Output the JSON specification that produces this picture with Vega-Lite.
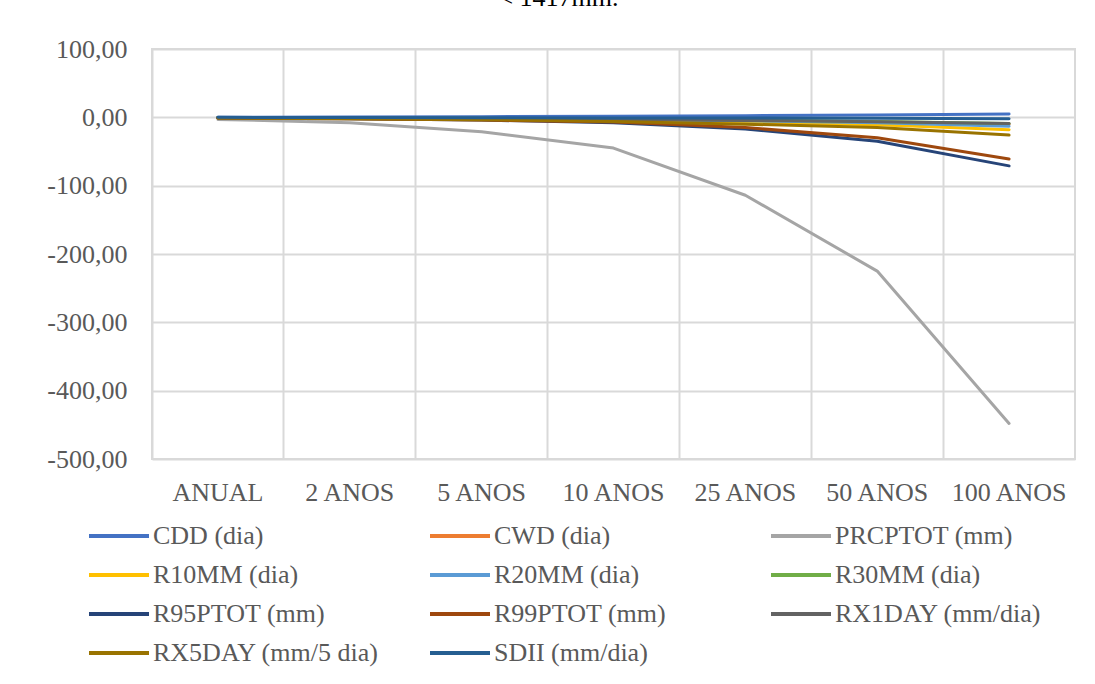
{
  "$schema": "https://vega.github.io/schema/vega-lite/v6.json",
  "width": 923,
  "height": 410,
  "autosize": {"type": "none"},
  "padding": {"left": 152, "top": 49, "right": 20, "bottom": 225},
  "background": "white",
  "title": {"text": "< 1417mm.", "font": "Liberation Serif", "fontSize": 26, "fontWeight": "normal", "color": "#000000", "anchor": "middle", "dx": -55, "offset": 25},
  "data": {"values": [
    {"serie": "CDD (dia)", "periodo": "ANUAL", "valor": 0},
    {"serie": "CDD (dia)", "periodo": "2 ANOS", "valor": 0.5},
    {"serie": "CDD (dia)", "periodo": "5 ANOS", "valor": 1},
    {"serie": "CDD (dia)", "periodo": "10 ANOS", "valor": 1.5},
    {"serie": "CDD (dia)", "periodo": "25 ANOS", "valor": 2.5},
    {"serie": "CDD (dia)", "periodo": "50 ANOS", "valor": 3.5},
    {"serie": "CDD (dia)", "periodo": "100 ANOS", "valor": 5},
    {"serie": "CWD (dia)", "periodo": "ANUAL", "valor": -1},
    {"serie": "CWD (dia)", "periodo": "2 ANOS", "valor": -1.5},
    {"serie": "CWD (dia)", "periodo": "5 ANOS", "valor": -2},
    {"serie": "CWD (dia)", "periodo": "10 ANOS", "valor": -3},
    {"serie": "CWD (dia)", "periodo": "25 ANOS", "valor": -5},
    {"serie": "CWD (dia)", "periodo": "50 ANOS", "valor": -7},
    {"serie": "CWD (dia)", "periodo": "100 ANOS", "valor": -10},
    {"serie": "PRCPTOT (mm)", "periodo": "ANUAL", "valor": -3},
    {"serie": "PRCPTOT (mm)", "periodo": "2 ANOS", "valor": -8},
    {"serie": "PRCPTOT (mm)", "periodo": "5 ANOS", "valor": -21},
    {"serie": "PRCPTOT (mm)", "periodo": "10 ANOS", "valor": -45},
    {"serie": "PRCPTOT (mm)", "periodo": "25 ANOS", "valor": -114},
    {"serie": "PRCPTOT (mm)", "periodo": "50 ANOS", "valor": -225},
    {"serie": "PRCPTOT (mm)", "periodo": "100 ANOS", "valor": -448},
    {"serie": "R10MM (dia)", "periodo": "ANUAL", "valor": -1},
    {"serie": "R10MM (dia)", "periodo": "2 ANOS", "valor": -1.5},
    {"serie": "R10MM (dia)", "periodo": "5 ANOS", "valor": -3},
    {"serie": "R10MM (dia)", "periodo": "10 ANOS", "valor": -4},
    {"serie": "R10MM (dia)", "periodo": "25 ANOS", "valor": -7},
    {"serie": "R10MM (dia)", "periodo": "50 ANOS", "valor": -11},
    {"serie": "R10MM (dia)", "periodo": "100 ANOS", "valor": -18},
    {"serie": "R20MM (dia)", "periodo": "ANUAL", "valor": -0.5},
    {"serie": "R20MM (dia)", "periodo": "2 ANOS", "valor": -1},
    {"serie": "R20MM (dia)", "periodo": "5 ANOS", "valor": -2},
    {"serie": "R20MM (dia)", "periodo": "10 ANOS", "valor": -3},
    {"serie": "R20MM (dia)", "periodo": "25 ANOS", "valor": -5},
    {"serie": "R20MM (dia)", "periodo": "50 ANOS", "valor": -8},
    {"serie": "R20MM (dia)", "periodo": "100 ANOS", "valor": -13},
    {"serie": "R30MM (dia)", "periodo": "ANUAL", "valor": -0.5},
    {"serie": "R30MM (dia)", "periodo": "2 ANOS", "valor": -1},
    {"serie": "R30MM (dia)", "periodo": "5 ANOS", "valor": -1.5},
    {"serie": "R30MM (dia)", "periodo": "10 ANOS", "valor": -2.5},
    {"serie": "R30MM (dia)", "periodo": "25 ANOS", "valor": -4},
    {"serie": "R30MM (dia)", "periodo": "50 ANOS", "valor": -6},
    {"serie": "R30MM (dia)", "periodo": "100 ANOS", "valor": -9},
    {"serie": "R95PTOT (mm)", "periodo": "ANUAL", "valor": -1},
    {"serie": "R95PTOT (mm)", "periodo": "2 ANOS", "valor": -2},
    {"serie": "R95PTOT (mm)", "periodo": "5 ANOS", "valor": -4},
    {"serie": "R95PTOT (mm)", "periodo": "10 ANOS", "valor": -8},
    {"serie": "R95PTOT (mm)", "periodo": "25 ANOS", "valor": -17},
    {"serie": "R95PTOT (mm)", "periodo": "50 ANOS", "valor": -35},
    {"serie": "R95PTOT (mm)", "periodo": "100 ANOS", "valor": -71},
    {"serie": "R99PTOT (mm)", "periodo": "ANUAL", "valor": -1},
    {"serie": "R99PTOT (mm)", "periodo": "2 ANOS", "valor": -2},
    {"serie": "R99PTOT (mm)", "periodo": "5 ANOS", "valor": -4},
    {"serie": "R99PTOT (mm)", "periodo": "10 ANOS", "valor": -7},
    {"serie": "R99PTOT (mm)", "periodo": "25 ANOS", "valor": -15},
    {"serie": "R99PTOT (mm)", "periodo": "50 ANOS", "valor": -30},
    {"serie": "R99PTOT (mm)", "periodo": "100 ANOS", "valor": -61},
    {"serie": "RX1DAY (mm/dia)", "periodo": "ANUAL", "valor": -0.5},
    {"serie": "RX1DAY (mm/dia)", "periodo": "2 ANOS", "valor": -1},
    {"serie": "RX1DAY (mm/dia)", "periodo": "5 ANOS", "valor": -2},
    {"serie": "RX1DAY (mm/dia)", "periodo": "10 ANOS", "valor": -3},
    {"serie": "RX1DAY (mm/dia)", "periodo": "25 ANOS", "valor": -4.5},
    {"serie": "RX1DAY (mm/dia)", "periodo": "50 ANOS", "valor": -6.5},
    {"serie": "RX1DAY (mm/dia)", "periodo": "100 ANOS", "valor": -9},
    {"serie": "RX5DAY (mm/5 dia)", "periodo": "ANUAL", "valor": -1},
    {"serie": "RX5DAY (mm/5 dia)", "periodo": "2 ANOS", "valor": -2},
    {"serie": "RX5DAY (mm/5 dia)", "periodo": "5 ANOS", "valor": -3.5},
    {"serie": "RX5DAY (mm/5 dia)", "periodo": "10 ANOS", "valor": -6},
    {"serie": "RX5DAY (mm/5 dia)", "periodo": "25 ANOS", "valor": -10},
    {"serie": "RX5DAY (mm/5 dia)", "periodo": "50 ANOS", "valor": -15},
    {"serie": "RX5DAY (mm/5 dia)", "periodo": "100 ANOS", "valor": -26},
    {"serie": "SDII (mm/dia)", "periodo": "ANUAL", "valor": 0},
    {"serie": "SDII (mm/dia)", "periodo": "2 ANOS", "valor": -0.3},
    {"serie": "SDII (mm/dia)", "periodo": "5 ANOS", "valor": -0.5},
    {"serie": "SDII (mm/dia)", "periodo": "10 ANOS", "valor": -0.8},
    {"serie": "SDII (mm/dia)", "periodo": "25 ANOS", "valor": -1},
    {"serie": "SDII (mm/dia)", "periodo": "50 ANOS", "valor": -1.5},
    {"serie": "SDII (mm/dia)", "periodo": "100 ANOS", "valor": -2}
  ]},
  "mark": {"type": "line", "strokeWidth": 3, "strokeCap": "round", "strokeJoin": "round"},
  "encoding": {
    "x": {
      "field": "periodo", "type": "nominal", "sort": null,
      "scale": {"type": "band", "paddingInner": 0, "paddingOuter": 0, "domain": ["ANUAL", "2 ANOS", "5 ANOS", "10 ANOS", "25 ANOS", "50 ANOS", "100 ANOS"]},
      "axis": {"title": null, "labelFont": "Liberation Serif", "labelFontSize": 26, "labelColor": "#595959", "labelAngle": 0, "ticks": false, "domain": false, "grid": true, "gridColor": "#d9d9d9", "gridWidth": 2, "bandPosition": 0, "labelPadding": 20}
    },
    "y": {
      "field": "valor", "type": "quantitative",
      "scale": {"domain": [-500, 100], "nice": false, "zero": false},
      "axis": {"title": null, "values": [-500, -400, -300, -200, -100, 0, 100], "labelExpr": "replace(replace(format(datum.value, '.2f'), '.', ','), '\u2212', '-')", "grid": true, "gridColor": "#d9d9d9", "gridWidth": 2, "domain": false, "ticks": false, "labelFont": "Liberation Serif", "labelFontSize": 26, "labelColor": "#595959", "labelPadding": 25}
    },
    "color": {
      "field": "serie", "type": "nominal",
      "scale": {
        "domain": ["CDD (dia)", "CWD (dia)", "PRCPTOT (mm)", "R10MM (dia)", "R20MM (dia)", "R30MM (dia)", "R95PTOT (mm)", "R99PTOT (mm)", "RX1DAY (mm/dia)", "RX5DAY (mm/5 dia)", "SDII (mm/dia)"],
        "range": ["#4472C4", "#ED7D31", "#A5A5A5", "#FFC000", "#5B9BD5", "#70AD47", "#264478", "#9E480E", "#636363", "#997300", "#255E91"]
      },
      "legend": {"title": null, "orient": "none", "legendX": -50, "legendY": 470, "columns": 3, "direction": "horizontal", "symbolType": "M-2,0H2", "symbolSize": 900, "symbolStrokeWidth": 4, "labelFont": "Liberation Serif", "labelFontSize": 26, "labelColor": "#595959", "labelOffset": 17, "labelLimit": 400, "gridAlign": "all", "columnPadding": 43, "rowPadding": 9}
    }
  },
  "config": {
    "view": {"stroke": "#d9d9d9", "strokeWidth": 2}
  }
}
